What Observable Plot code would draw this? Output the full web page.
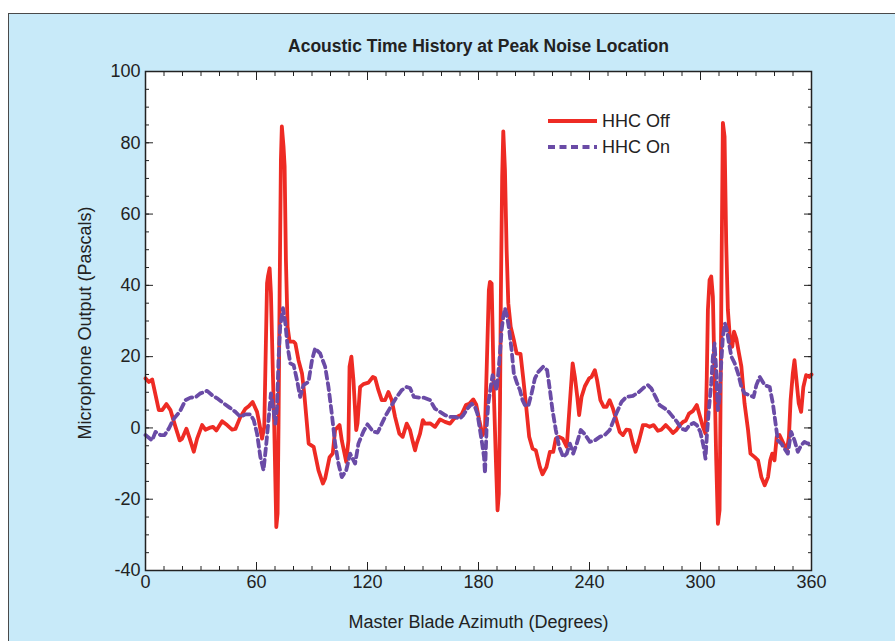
<!DOCTYPE html>
<html>
<head>
<meta charset="utf-8">
<script src="https://cdn.jsdelivr.net/npm/d3@7"></script>
<script src="https://cdn.jsdelivr.net/npm/@observablehq/plot@0.6"></script>
<style>
  html, body { margin: 0; padding: 0; background: #ffffff; }
  #wrap { position: relative; width: 895px; height: 641px; overflow: hidden; background: #ffffff; }
  #panel { position: absolute; left: 8px; top: 13px; width: 900px; height: 640px; background: #c8eaf9; border: 1px solid #4a4a4a; box-sizing: border-box; }
  #chart { position: absolute; left: 0; top: 0; }
</style>
</head>
<body>
<div id="wrap"><div id="panel"></div><div id="chart"></div></div>
<script>
// ---- Data ----
const titleText = "Acoustic Time History at Peak Noise Location";
const xLabel = "Master Blade Azimuth (Degrees)";
const yLabel = "Microphone Output (Pascals)";
const seriesNames = ["HHC Off", "HHC On"];

const xMajorTicks = [0, 60, 120, 180, 240, 300, 360];
const yMajorTicks = [-40, -20, 0, 20, 40, 60, 80, 100];

// HHC Off (solid red)
const offAz = [0,1.8,3.6,7.2,9.0,11.3,13.5,16.2,18.5,19.8,22.1,23.9,26.1,27.9,30.6,32.4,34.5,36.5,38.3,41.4,44.1,46.8,48.6,51.3,54,55.8,57.9,60.3,61.2,63,64.2,65.7,66.2,67.1,67.8,68.9,69.6,70.7,71.4,71.9,72.5,73.2,73.7,74.6,75.2,75.9,76.8,77.9,80.1,81,82.7,84.6,85.8,88.2,90.9,93.5,95.9,97.1,99.5,101.2,102.5,104.9,106.1,108.5,109.7,110.3,111.3,112.4,113.9,114.6,116,117.8,120.5,122.9,124.1,125.9,127.7,129.5,131.3,133.1,134.9,137.2,139,141.2,143,144.5,145.7,146.6,148.4,149.9,151.1,153.8,156.5,159.2,161.9,164.6,166.8,169.1,170.9,173.2,175,177.2,178.8,180.4,182.2,183.5,184,184.8,185.6,186.2,187.1,187.6,188.3,189.4,190.3,191,191.6,192.1,192.8,193.4,194.3,195.2,196.1,197.4,199.1,200.6,202.7,204.1,205.6,207.4,209.2,211,213.2,214.6,216.7,218.6,220.4,221.8,223.6,225.5,227.7,229.1,230.9,232.1,233.4,234.4,235.7,237.5,239.8,241.1,242.9,244.1,245.9,247.7,249.2,250.9,252.7,254.5,256.3,258.1,259.9,261.7,263.5,264.9,266.8,268.9,270.7,272.5,274.7,277,278.8,281.2,283.3,285.1,287,288.8,290.6,292,293.8,296,298,299.5,301.3,302.7,303.4,304,304.9,305.8,306.7,307.6,308.5,309.4,310.3,310.8,311.5,312.1,313,313.9,314.8,316.1,317.2,318.1,319.4,320.8,322.1,323.8,325.7,327,329.3,331.1,332.9,334.7,336.5,337.7,338.8,340,341.2,342.7,344.9,346.7,347.8,348.7,349.9,350.8,351.7,353.1,354.4,355.6,357.1,358.8,360];
const offVal = [13.9,12.9,13.6,5.0,5.0,6.7,5.0,0.3,-3.5,-3.0,-0.2,-3.0,-6.7,-3.0,0.8,-0.5,0.0,0.3,-0.7,1.9,0.8,-0.5,-0.3,3.1,5.4,6.1,7.3,4.5,2.2,-3.0,0.3,40.6,42.5,44.8,37.8,14.3,0.3,-27.8,-24,0.3,37.9,75.3,84.6,79,73.4,47.1,28.4,24.2,24.2,23.7,19,15.3,9.7,-4.4,-5.3,-11.9,-15.6,-14.2,-8.2,-7.2,-0.6,0.8,-3.5,-9.5,-3.5,17.2,20,13.4,-0.6,1.3,11.5,12.3,12.7,14.3,14,10.6,7.8,7.8,10.1,7.8,3.1,-1.6,-2.5,1.2,-0.6,-3.9,-6.3,-4.4,-1.6,2.2,1.2,1.3,0.3,2.4,1.7,1.2,2.6,3.3,3.8,6.4,6.8,8.0,6.5,2.2,-2.0,-0.6,8.7,23.7,38.7,41,40.5,28.4,9.7,-9.1,-23.1,-18.4,5,37.8,70.6,83.2,72.4,50,35,28.4,24.7,20.9,20.8,14.3,6.9,-2.5,-5.8,-6.3,-11,-13,-11,-6.7,-6.7,-3.0,-2.5,-3,-5.3,5,18.1,14.3,8.7,3.6,8.7,11.7,13.9,14.3,16.2,13.4,7.8,5.9,5.9,7.8,5.4,2.2,-1.1,-2,-0.5,-0.6,-4.4,-6.7,-3.5,0.8,0.8,0.3,0.8,-0.8,-0.5,0.8,-0.3,-1.4,-0.6,0.8,1.7,2.0,4.0,4.8,6.4,3.6,0.3,-1.6,14.3,33.1,41.5,42.5,36.8,14.3,-9.1,-26.9,-23.1,5,51.8,85.6,81.8,51.8,33.1,23.7,22.8,27,25,20.9,17.2,6.9,-0.6,-7.2,-8.2,-9.1,-13.8,-16.1,-13.8,-9.1,-7.2,-9.1,-2.5,-2,-4.4,-6.3,-2.5,7.8,15.3,19,14.3,6.9,4.5,11.5,14.8,14.3,15];

// HHC On (dashed purple)
const onAz = [0,3.6,5.4,8.1,10.3,12.6,15.3,18.5,21.6,24.3,27,29.7,33.3,36,38.7,42.3,45.5,48.6,51.3,54,56.7,58.5,60.3,62.1,63.8,65.3,66.5,67.8,69.2,70.2,71.1,71.9,72.8,74.3,75.6,76.8,78.3,80.1,81.9,83.6,85.4,88.1,90,91.7,94.4,97.1,98.9,100.7,102.5,104.3,106.1,108.5,110.6,113.3,115.1,117.8,120,123,125.5,128,130.4,133.1,135.8,138.5,141.2,143,145.1,148,150.6,153.8,156.5,159.2,161.9,164.6,167.3,170,171.8,174,176.3,178.1,179.4,180.4,181.7,183,183.5,184.4,185.3,186.6,187.6,188.9,189.8,190.7,191.6,192.5,193.4,194.3,195.5,196.6,197.9,199.1,200.6,202.4,203.8,205.1,206.9,208.7,210.5,212.3,215,217.1,218.6,220,221.8,223.6,225.8,227.7,229.4,231.2,233.1,235.3,237.5,240.2,242.9,245.6,248.2,250.9,252.7,254.9,257.3,259.9,263.5,266.8,269.8,271.6,273.4,275.7,277.9,280.6,282.9,285.1,287.3,289.6,292,294.1,296.3,298,299.9,301.7,302.7,303.4,304.5,305.8,306.7,307.6,308.5,309.4,310.3,311.2,312.1,313.2,314.3,315.4,316.7,318.5,320.3,322.1,323.8,326.5,328.7,330.2,332,334.7,337.4,339.1,340.6,341.8,343.7,345.4,347.2,349,350.8,352.6,354.4,356.2,358,360];
const onVal = [-2,-3.5,-1.1,-2,-2,-0.2,2.6,4.5,7.8,8.5,8.6,9.7,10.4,9.2,8.3,6.9,5.7,4.5,3.1,3.8,3.8,2.2,-1.6,-8.2,-11.9,-4.4,2.2,9.7,5,1.2,5.9,19,28.4,33.6,29.3,22.8,18.1,17.6,13.4,8.7,12,12.9,19,22.3,20.9,17.2,11.5,4,-4.4,-10,-13.8,-11.9,-7.2,-10,-4.4,-1.0,1.0,-1.0,-1.3,1.5,4.0,6.4,8.7,10.6,11.5,11.2,8.7,8.5,8.5,7.8,5.4,4.5,3.6,3.1,3.1,2.6,3.6,5.4,6.8,5.9,4.0,0.8,-3.5,-8.2,-12.8,0.3,6.9,11.5,14.8,12.5,10.6,15.3,20.9,27.5,31.2,33.6,31.2,27.5,21.8,15.3,12.9,10.6,7.8,6.4,6.1,9.7,13.9,15.7,17.2,16.2,10.6,5,-0.6,-5.3,-8.2,-7.2,-4.4,-7.2,-4.4,-0.6,-1.8,-3.9,-3.5,-2.5,-2,-0.6,1.7,4.5,7.3,8.7,9.0,10.1,11.5,12,11.1,8.7,6.4,5.5,4.5,3.1,1.7,-0.2,-0.6,0.8,1.4,0.8,-1.1,-5.3,-8.6,-2.5,5,12.5,20,23.7,16.2,5,8.7,18.1,25.6,29.3,27.5,23.7,20,18.1,15.3,11.5,9.7,9.2,8.7,12,14.3,12,11.5,6.9,1.2,-3.5,-4.4,-5.8,-7.2,-1.1,-3.5,-6.7,-4.9,-3.9,-4.4,-4];

// ---- Styles ----
const RED = "#ee2b24";
const PURPLE = "#6a4ba6";
const INK = "#222222";
const FONT = "'Liberation Sans', Arial, Helvetica, sans-serif";

const offData = offAz.map((a, i) => ({az: a, val: offVal[i]}));
const onData = onAz.map((a, i) => ({az: a, val: onVal[i]}));

const xMinor = d3.range(0, 361, 10);
const yMinor = d3.range(-40, 101, 5);
const fmt = d => String(d);

const plot = Plot.plot({
  width: 895,
  height: 641,
  marginLeft: 145,
  marginRight: 84,
  marginTop: 71,
  marginBottom: 71,
  style: {background: "transparent", fontFamily: FONT, fontSize: "18px", color: INK},
  x: {domain: [0, 360]},
  y: {domain: [-40, 100]},
  marks: [
    Plot.frame({fill: "white", stroke: "none"}),
    // minor ticks (inward)
    Plot.axisX(xMinor, {anchor: "bottom", tickSize: -4, fill: "none", label: null, stroke: INK}),
    Plot.axisX(xMinor, {anchor: "top", tickSize: -4, fill: "none", label: null, stroke: INK}),
    Plot.axisY(yMinor, {anchor: "left", tickSize: -4, fill: "none", label: null, stroke: INK}),
    Plot.axisY(yMinor, {anchor: "right", tickSize: -4, fill: "none", label: null, stroke: INK}),
    // major ticks (inward)
    Plot.axisX(xMajorTicks, {anchor: "bottom", tickSize: -8, fill: "none", label: null, stroke: INK}),
    Plot.axisX(xMajorTicks, {anchor: "top", tickSize: -8, fill: "none", label: null, stroke: INK}),
    Plot.axisY(yMajorTicks, {anchor: "left", tickSize: -8, fill: "none", label: null, stroke: INK}),
    Plot.axisY(yMajorTicks, {anchor: "right", tickSize: -8, fill: "none", label: null, stroke: INK}),
    // tick labels
    Plot.axisX(xMajorTicks, {anchor: "bottom", tickSize: 0, tickPadding: 5, label: null, fill: INK, fontSize: 18, tickFormat: fmt}),
    Plot.axisY(yMajorTicks, {anchor: "left", tickSize: 0, tickPadding: 5, label: null, fill: INK, fontSize: 18, tickFormat: fmt}),
    // series
    Plot.line(offData, {x: "az", y: "val", stroke: RED, strokeWidth: 3.8, strokeLinejoin: "round"}),
    Plot.line(onData, {x: "az", y: "val", stroke: PURPLE, strokeWidth: 3.8, strokeDasharray: "7,4.5", strokeLinejoin: "round"}),
    Plot.frame({stroke: INK, strokeWidth: 1.5}),
    // titles
    Plot.text([titleText], {text: d => d, frameAnchor: "top", dy: -25, lineAnchor: "middle", textAnchor: "middle", fontWeight: "bold", fontSize: 17.5, fill: INK}),
    Plot.text([xLabel], {text: d => d, frameAnchor: "bottom", dy: 52, lineAnchor: "middle", textAnchor: "middle", fontSize: 18, fill: INK}),
    Plot.text([yLabel], {text: d => d, frameAnchor: "left", dx: -60, dy: 2, rotate: -90, lineAnchor: "middle", textAnchor: "middle", fontSize: 18, fill: INK})
  ]
});

// legend (layout only)
const svg = d3.select(plot);
const leg = svg.append("g").attr("font-family", FONT).attr("font-size", 18).attr("fill", INK).attr("text-anchor", "start");
const legendItems = [
  {name: seriesNames[0], color: RED, dash: null, w: 3.8},
  {name: seriesNames[1], color: PURPLE, dash: "7,4.5", w: 3.8}
];
legendItems.forEach((it, i) => {
  const y = 121 + i * 26;
  leg.append("line").attr("x1", 548).attr("x2", 597).attr("y1", y).attr("y2", y)
    .attr("stroke", it.color).attr("stroke-width", it.w).attr("stroke-dasharray", it.dash);
  leg.append("text").attr("x", 602).attr("y", y).attr("dy", "0.35em").attr("text-anchor", "start").text(it.name);
});

document.getElementById("chart").appendChild(plot);
</script>
</body>
</html>
